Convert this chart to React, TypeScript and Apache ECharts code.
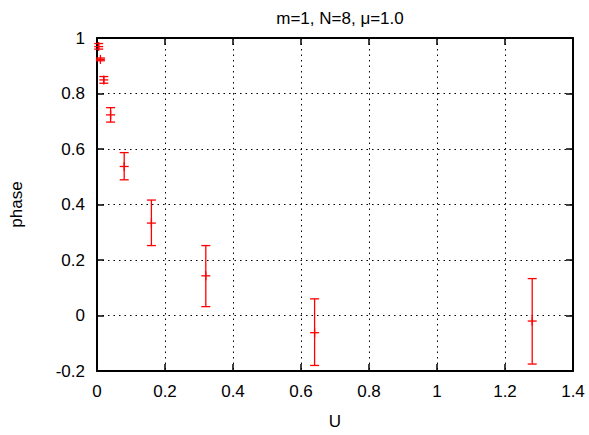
import React, { useEffect, useRef } from "react";
import * as echarts from "echarts";

const uValues = [0.005, 0.01, 0.02, 0.04, 0.08, 0.16, 0.32, 0.64, 1.28];
const phaseValues = [0.969, 0.923, 0.849, 0.723, 0.537, 0.333, 0.143, -0.062, -0.02];
const phaseLow = [0.96, 0.918, 0.837, 0.697, 0.489, 0.252, 0.032, -0.18, -0.175];
const phaseHigh = [0.98, 0.928, 0.861, 0.749, 0.587, 0.416, 0.252, 0.06, 0.133];

const xTicks = [0, 0.2, 0.4, 0.6, 0.8, 1, 1.2, 1.4];
const yTicks = [-0.2, 0, 0.2, 0.4, 0.6, 0.8, 1];

const fmt = (v: number) => {
  const r = Math.round(v * 10) / 10;
  return String(r);
};

export default function App() {
  const ref = useRef<HTMLDivElement>(null);
  useEffect(() => {
    if (!ref.current) return;
    const chart = echarts.init(ref.current, null, { renderer: "svg" });
    const data = uValues.map((u, i) => [u, phaseValues[i], phaseLow[i], phaseHigh[i]]);
    const font = "Liberation Sans, Arial, sans-serif";
    const baseAxis = {
      axisLine: { show: true, onZero: false, lineStyle: { color: "#000", width: 2 } },
      axisTick: { show: true, inside: true, length: 7, lineStyle: { color: "#000", width: 1.5 } },
    };
    chart.setOption({
      animation: false,
      backgroundColor: "#fff",
      title: {
        text: "m=1, N=8, \u03bc=1.0",
        left: 335,
        textAlign: "center",
        top: 5,
        textStyle: { fontFamily: font, fontSize: 17, fontWeight: "normal", color: "#000" },
      },
      grid: { left: 97, right: 16, top: 38, bottom: 63 },
      xAxis: [
        {
          ...baseAxis,
          type: "value",
          min: xTicks[0],
          max: xTicks[xTicks.length - 1],
          interval: 0.2,
          name: "U",
          nameLocation: "middle",
          nameGap: 42,
          nameTextStyle: { fontFamily: font, fontSize: 17, color: "#000" },
          axisLabel: { formatter: fmt, fontFamily: font, fontSize: 17, color: "#000", margin: 12 },
          splitLine: { show: true, lineStyle: { color: "#000", type: [1.5, 4], width: 1 } },
        },
        {
          ...baseAxis,
          type: "value",
          position: "top",
          min: xTicks[0],
          max: xTicks[xTicks.length - 1],
          interval: 0.2,
          axisLabel: { show: false },
          splitLine: { show: false },
        },
      ],
      yAxis: [
        {
          ...baseAxis,
          type: "value",
          min: yTicks[0],
          max: yTicks[yTicks.length - 1],
          interval: 0.2,
          name: "phase",
          nameLocation: "middle",
          nameGap: 72,
          nameTextStyle: { fontFamily: font, fontSize: 17, color: "#000" },
          axisLabel: { formatter: fmt, fontFamily: font, fontSize: 17, color: "#000", margin: 12 },
          splitLine: { show: true, lineStyle: { color: "#000", type: [1.5, 4], width: 1 } },
        },
        {
          ...baseAxis,
          type: "value",
          position: "right",
          min: yTicks[0],
          max: yTicks[yTicks.length - 1],
          interval: 0.2,
          axisLabel: { show: false },
          splitLine: { show: false },
        },
      ],
      series: [
        {
          type: "custom",
          xAxisIndex: 0,
          yAxisIndex: 0,
          data,
          encode: { x: 0, y: [1, 2, 3] },
          renderItem: (params: any, api: any) => {
            const x = api.value(0);
            const c = api.coord([x, api.value(1)]);
            const lo = api.coord([x, api.value(2)]);
            const hi = api.coord([x, api.value(3)]);
            const cap = 4.5;
            const pl = 4.5;
            const style = { stroke: "#ff0000", lineWidth: 1.3 };
            return {
              type: "group",
              children: [
                { type: "line", shape: { x1: lo[0], y1: lo[1], x2: hi[0], y2: hi[1] }, style },
                { type: "line", shape: { x1: lo[0] - cap, y1: lo[1], x2: lo[0] + cap, y2: lo[1] }, style },
                { type: "line", shape: { x1: hi[0] - cap, y1: hi[1], x2: hi[0] + cap, y2: hi[1] }, style },
                { type: "line", shape: { x1: c[0] - pl, y1: c[1], x2: c[0] + pl, y2: c[1] }, style },
                { type: "line", shape: { x1: c[0], y1: c[1] - pl, x2: c[0], y2: c[1] + pl }, style },
              ],
            };
          },
        },
      ],
    });
    return () => chart.dispose();
  }, []);
  return <div ref={ref} style={{ width: 589, height: 435, position: "absolute", left: 0, top: 0 }} />;
}
